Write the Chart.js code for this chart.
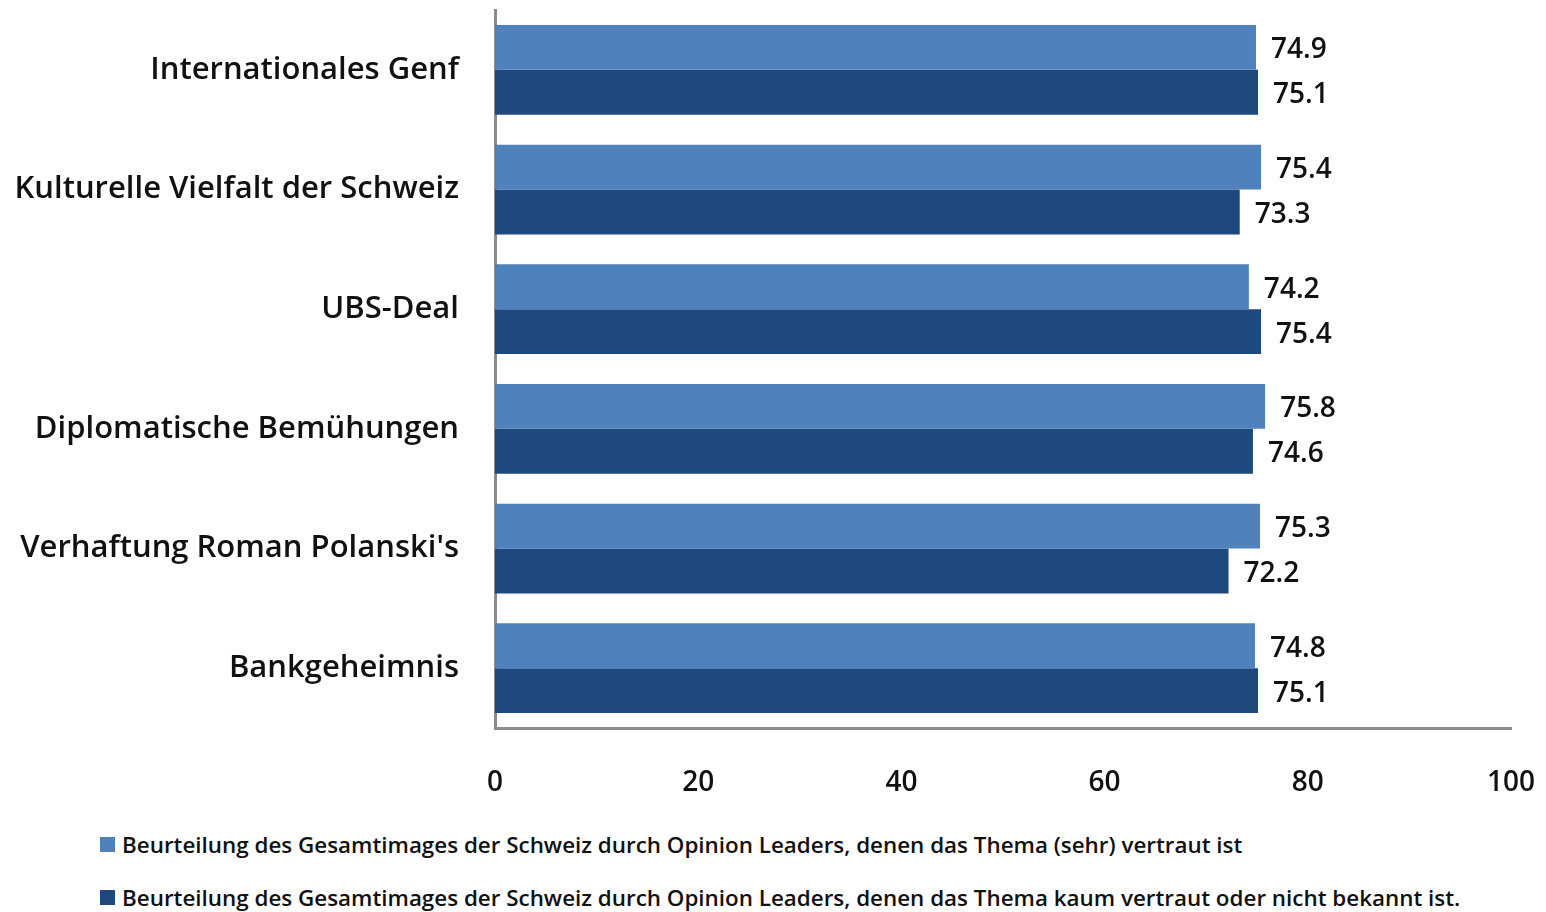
<!DOCTYPE html>
<html>
<head>
<meta charset="utf-8">
<script src="https://cdn.jsdelivr.net/npm/chart.js@4"></script>
<style>
    body { margin: 0; background: #fff; }
    #wrap { position: relative; width: 1546px; height: 912px; }
    #chart-box { position: absolute; left: 0; top: 0; width: 1546px; height: 812px; }
    #legend { position: absolute; left: 100px; top: 827px; font-family: "Open Sans", sans-serif; font-size: 22.4px; font-weight: 600; color: #111; }
    #legend div { display: flex; align-items: center; height: 34px; margin-bottom: 19px; }
    #legend span.box { display: inline-block; width: 15px; height: 15px; margin-right: 7px; }
</style>
</head>
<body>
<div id="wrap">
    <div id="chart-box"><canvas id="chart"></canvas></div>
    <div id="legend"></div>
</div>
<script>
const categories = [
    "Internationales Genf",
    "Kulturelle Vielfalt der Schweiz",
    "UBS-Deal",
    "Diplomatische Bemühungen",
    "Verhaftung Roman Polanski's",
    "Bankgeheimnis"
];
const familiarValues = [74.9, 75.4, 74.2, 75.8, 75.3, 74.8];
const unfamiliarValues = [75.1, 73.3, 75.4, 74.6, 72.2, 75.1];
const xTicks = [0, 20, 40, 60, 80, 100];
const seriesNames = [
    "Beurteilung des Gesamtimages der Schweiz durch Opinion Leaders, denen das Thema (sehr) vertraut ist",
    "Beurteilung des Gesamtimages der Schweiz durch Opinion Leaders, denen das Thema kaum vertraut oder nicht bekannt ist."
];
const seriesColors = ["#4F81BD", "#1F497D"];

// draws the value next to the end of each bar
const valueLabels = {
    id: "valueLabels",
    afterDatasetsDraw(chart) {
        const ctx = chart.ctx;
        ctx.save();
        ctx.font = "600 28px 'Open Sans', sans-serif";
        ctx.fillStyle = "#111";
        ctx.textAlign = "left";
        ctx.textBaseline = "middle";
        chart.data.datasets.forEach((ds, i) => {
            chart.getDatasetMeta(i).data.forEach((bar, j) => {
                ctx.fillText(ds.data[j].toFixed(1), bar.x + 15, bar.y + 3);
            });
        });
        ctx.restore();
    }
};

const chart = new Chart(document.getElementById("chart"), {
    type: "bar",
    data: {
        labels: categories,
        datasets: [
            { label: seriesNames[0], data: familiarValues, backgroundColor: seriesColors[0] },
            { label: seriesNames[1], data: unfamiliarValues, backgroundColor: seriesColors[1] }
        ]
    },
    options: {
        indexAxis: "y",
        responsive: true,
        maintainAspectRatio: false,
        animation: false,
        layout: { padding: { top: 10, right: 35 } },
        datasets: { bar: { categoryPercentage: 0.75, barPercentage: 1.0 } },
        plugins: {
            legend: { display: false },
            tooltip: { enabled: false }
        },
        scales: {
            x: {
                min: 0,
                max: 100,
                afterBuildTicks: (scale) => { scale.ticks = xTicks.map((v) => ({ value: v })); },
                grid: { display: false },
                border: { display: true, color: "#8c8c8c", width: 3 },
                ticks: {
                    padding: 30,
                    color: "#111",
                    font: { family: "'Open Sans', sans-serif", size: 28, weight: "600" }
                },
                afterFit: (scale) => {
                    scale.height = 84;
                    scale.paddingLeft = 0;
                    scale.paddingRight = 0;
                }
            },
            y: {
                grid: { display: false },
                border: { display: true, color: "#8c8c8c", width: 3 },
                ticks: {
                    padding: 28,
                    color: "#111",
                    font: { family: "'Open Sans', sans-serif", size: 31, weight: "600" }
                },
                afterFit: (scale) => {
                    scale.width = 495;
                    scale.paddingTop = 0;
                    scale.paddingBottom = 0;
                }
            }
        }
    },
    plugins: [valueLabels]
});

// legend rows below the chart
const legend = document.getElementById("legend");
legend.innerHTML = chart.data.datasets
    .map((ds) => `<div><span class="box" style="background:${ds.backgroundColor}"></span>${ds.label}</div>`)
    .join("");
</script>
</body>
</html>
